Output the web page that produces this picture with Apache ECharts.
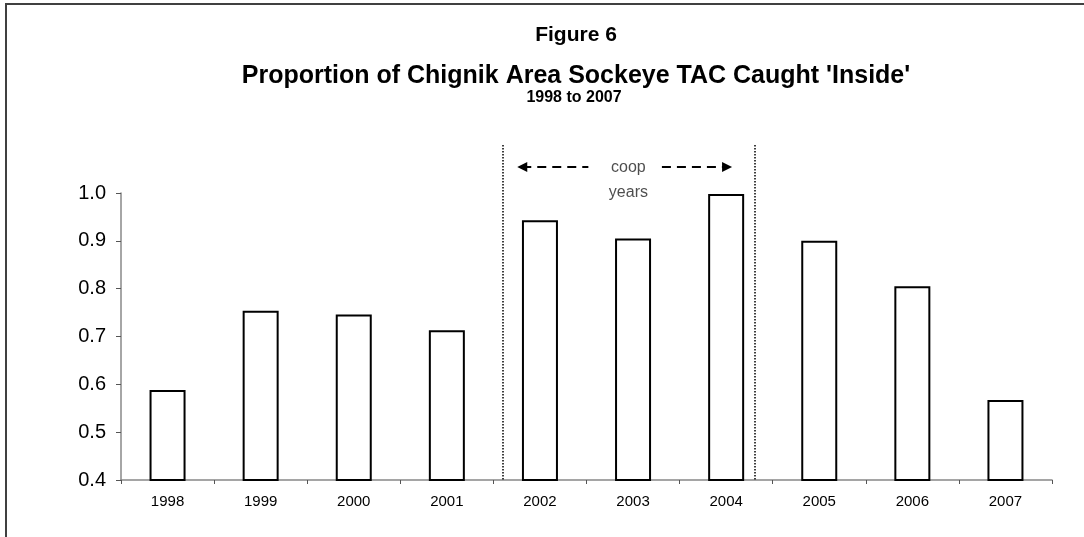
<!DOCTYPE html>
<html>
<head>
<meta charset="utf-8">
<script src="https://cdn.jsdelivr.net/npm/echarts@6/dist/echarts.min.js"></script>
<style>
  html, body { margin: 0; padding: 0; background: #fff; }
  #chart { width: 1084px; height: 537px; }
</style>
</head>
<body>
<div id="chart"></div>
<script>
const years = ['1998', '1999', '2000', '2001', '2002', '2003', '2004', '2005', '2006', '2007'];
const insideShare = [0.588, 0.754, 0.746, 0.713, 0.943, 0.905, 0.998, 0.900, 0.805, 0.567];
const yTicks = { min: 0.4, max: 1.0, step: 0.1 };
const titleLines = ['Figure 6', "Proportion of Chignik Area Sockeye TAC Caught 'Inside'", '1998 to 2007'];
const noteText = ['coop', 'years'];

// coop period bounds and note placement, in category-index units (overlay grid)
const coopBounds = [3.6, 6.31];
const noteX = 4.95;

const chart = echarts.init(document.getElementById('chart'));
const font = "'Liberation Sans', Arial, sans-serif";

const option = {
  animation: false,
  backgroundColor: '#fff',
  textStyle: { fontFamily: font },
  title: [
    { text: titleLines[0], left: 576, top: 25, textAlign: 'center', padding: 0,
      textStyle: { fontSize: 21, fontWeight: 'bold', color: '#000', fontFamily: font } },
    { text: titleLines[1], left: 576, top: 64, textAlign: 'center', padding: 0,
      textStyle: { fontSize: 25, fontWeight: 'bold', color: '#000', fontFamily: font } },
    { text: titleLines[2], left: 574, top: 90, textAlign: 'center', padding: 0,
      textStyle: { fontSize: 16, fontWeight: 'bold', color: '#000', fontFamily: font } }
  ],
  graphic: [
    { type: 'polyline', shape: { points: [[6, 537], [6, 4], [1084, 4]] },
      style: { stroke: '#404040', lineWidth: 2, fill: null } }
  ],
  grid: [
    { left: 121, right: 32, top: 193, bottom: 57 },
    { left: 121, right: 32, top: 145, bottom: 57 }
  ],
  xAxis: [
    {
      type: 'category', data: years, gridIndex: 0,
      axisLine: { lineStyle: { color: '#888', width: 1.5 } },
      axisTick: { show: true, length: 4, lineStyle: { color: '#555' } },
      axisLabel: { fontSize: 15, color: '#000', margin: 14, fontFamily: font }
    },
    { type: 'value', gridIndex: 1, min: -0.5, max: 9.5, show: false }
  ],
  yAxis: [
    {
      type: 'value', gridIndex: 0, min: yTicks.min, max: yTicks.max, interval: yTicks.step,
      axisLine: { show: true, lineStyle: { color: '#888', width: 1.5 } },
      axisTick: { show: true, length: 5, lineStyle: { color: '#555' } },
      axisLabel: { fontSize: 20, color: '#000', margin: 15, fontFamily: font,
        formatter: v => v.toFixed(1) },
      splitLine: { show: false }
    },
    { type: 'value', gridIndex: 1, min: 0.4, max: 1.1, show: false }
  ],
  series: [
    {
      type: 'bar', data: insideShare, barWidth: 36,
      xAxisIndex: 0, yAxisIndex: 0,
      itemStyle: { color: '#fff', borderColor: '#000', borderWidth: 2 }
    },
    {
      type: 'scatter', xAxisIndex: 1, yAxisIndex: 1,
      symbolSize: 0, silent: true,
      data: [
        { value: [noteX, 1.053], name: noteText[0] },
        { value: [noteX, 1.0], name: noteText[1] }
      ],
      label: { show: true, position: 'inside', formatter: p => p.name,
        fontSize: 16, color: '#222', fontFamily: font },
      markLine: {
        silent: true, animation: false,
        label: { show: false },
        data: [
          [{ coord: [coopBounds[0], 1.1], symbol: 'none' }, { coord: [coopBounds[0], 0.4], symbol: 'none',
            lineStyle: { type: [1.5, 1.5], width: 1.5, color: '#000' } }],
          [{ coord: [coopBounds[1], 1.1], symbol: 'none' }, { coord: [coopBounds[1], 0.4], symbol: 'none',
            lineStyle: { type: [1.5, 1.5], width: 1.5, color: '#000' } }],
          [{ coord: [3.81, 1.054], symbol: 'triangle', symbolSize: [10, 10] },
           { coord: [4.52, 1.054], symbol: 'none', lineStyle: { type: [9, 6], width: 2, color: '#000' } }],
          [{ coord: [5.31, 1.054], symbol: 'none' },
           { coord: [6.01, 1.054], symbol: 'triangle', symbolSize: [10, 10],
             lineStyle: { type: [9, 6], width: 2, color: '#000' } }]
        ],
        lineStyle: { color: '#000' },
        itemStyle: { color: '#000' }
      }
    }
  ]
};

chart.setOption(option);
</script>
</body>
</html>
